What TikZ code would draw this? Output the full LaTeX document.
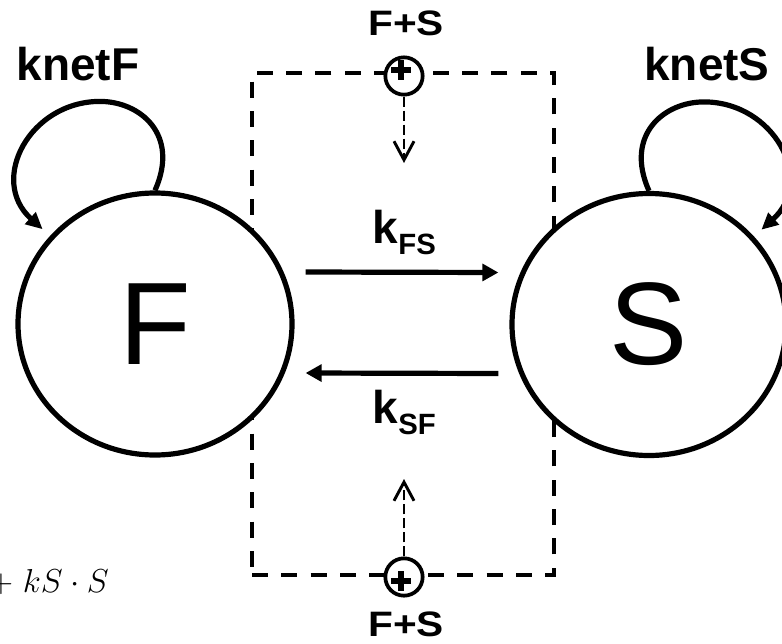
\documentclass[tikz,border=0pt]{standalone}
\usepackage{fontspec}
\setmainfont{Liberation Sans}
\usetikzlibrary{arrows.meta,shapes.geometric}
\begin{document}
\begin{tikzpicture}[x=0.75pt,y=-0.75pt,
  state/.style={draw, ellipse, fill=white, line width=3.9pt, minimum width=205.5pt, minimum height=196.5pt, inner sep=0pt, font=\fontsize{88}{88}\selectfont},
  lbl/.style={font=\fontsize{34.5}{36}\selectfont\bfseries, inner sep=0pt, anchor=base},
  fs/.style={font=\fontsize{26.5}{28}\selectfont\bfseries, inner sep=0pt, anchor=base},
  framebox/.style={draw, line width=3.1pt, dash pattern=on 12pt off 10pt, minimum width=226.5pt, minimum height=376.5pt, inner sep=0pt},
  pc/.style={draw, circle, fill=white, line width=2.8pt, minimum size=28pt, inner sep=0pt},
  plusbar/.style={line width=5.2pt},
  karrow/.style={line width=3.9pt, -{Triangle[length=12pt,width=12.5pt]}},
  looparrow/.style={line width=3.9pt, -{Triangle[length=12.5pt,width=11.5pt]}, shorten >=7.5pt},
  darrow/.style={line width=2.2pt, dash pattern=on 7.5pt off 3pt, -{Straight Barb[length=14pt,width=15pt,line width=2.2pt]}}
]
\useasboundingbox (0,0) rectangle (782,643);

% dashed frame
\node[framebox] (box) at (403,324) {};

% states
\node[state] (F) at (155,324) {F};
\node[state] (S) at (649,324.5) {S};

% plus circles
\node[pc] (ptop) at (404,76) {};
\node[pc] (pbot) at (404,577) {};
\begin{scope}
  \clip (ptop.center) circle (13pt);
  \draw[plusbar] ([shift={(-3,-16)}]ptop.center) -- ([shift={(-3,4)}]ptop.center);
  \draw[plusbar] ([shift={(-13,-6)}]ptop.center) -- ([shift={(7,-6)}]ptop.center);
\end{scope}
\begin{scope}
  \clip (pbot.center) circle (13pt);
  \draw[plusbar] ([shift={(-3,-6)}]pbot.center) -- ([shift={(-3,14)}]pbot.center);
  \draw[plusbar] ([shift={(-13,4)}]pbot.center) -- ([shift={(7,4)}]pbot.center);
\end{scope}

% dashed arrows
\coordinate (atop) at (404,163);
\coordinate (abot) at (404,479);
\draw[darrow] (ptop) -- (atop);
\draw[darrow] (pbot) -- (abot);

% rate arrows
\draw[karrow] ([shift={(11,-52)}]F.east) -- ([shift={(-11,-52)}]S.west);
\draw[karrow] ([shift={(-11,49)}]S.west) -- ([shift={(11,49)}]F.east);

% self loops
\draw[looparrow] (F.north) .. controls +(25,-56) and +(40,0) .. ([shift={(-55,-89)}]F.north)
   .. controls +(-70,0) and +(-62,-56) .. (F.140);
\draw[looparrow] (S.north) .. controls +(-25,-56) and +(-40,0) .. ([shift={(55,-89)}]S.north)
   .. controls +(70,0) and +(62,-56) .. (S.40);

% labels
\node[lbl] (knetF) at (78,80) {knetF};
\node[lbl] (knetS) at (707,80) {knetS};
\node[lbl, anchor=base west] (kfs) at (372.5,243) {k\raisebox{-8.25pt}{\fontsize{22}{22}\selectfont FS}};
\node[lbl, anchor=base west] (ksf) at (372.5,423) {k\raisebox{-8.25pt}{\fontsize{22}{22}\selectfont SF}};
\node[fs] (fstop) at (406,35) {\scalebox{1.15}[1]{F+S}};
\node[fs] (fsbot) at (406,636) {\scalebox{1.15}[1]{F+S}};
\node[anchor=base east, inner sep=0pt, font=\fontsize{26}{30}\selectfont] (eq) at (109,592) {${+}\hspace{7.5pt}kS\cdot S$};
\end{tikzpicture}
\end{document}
